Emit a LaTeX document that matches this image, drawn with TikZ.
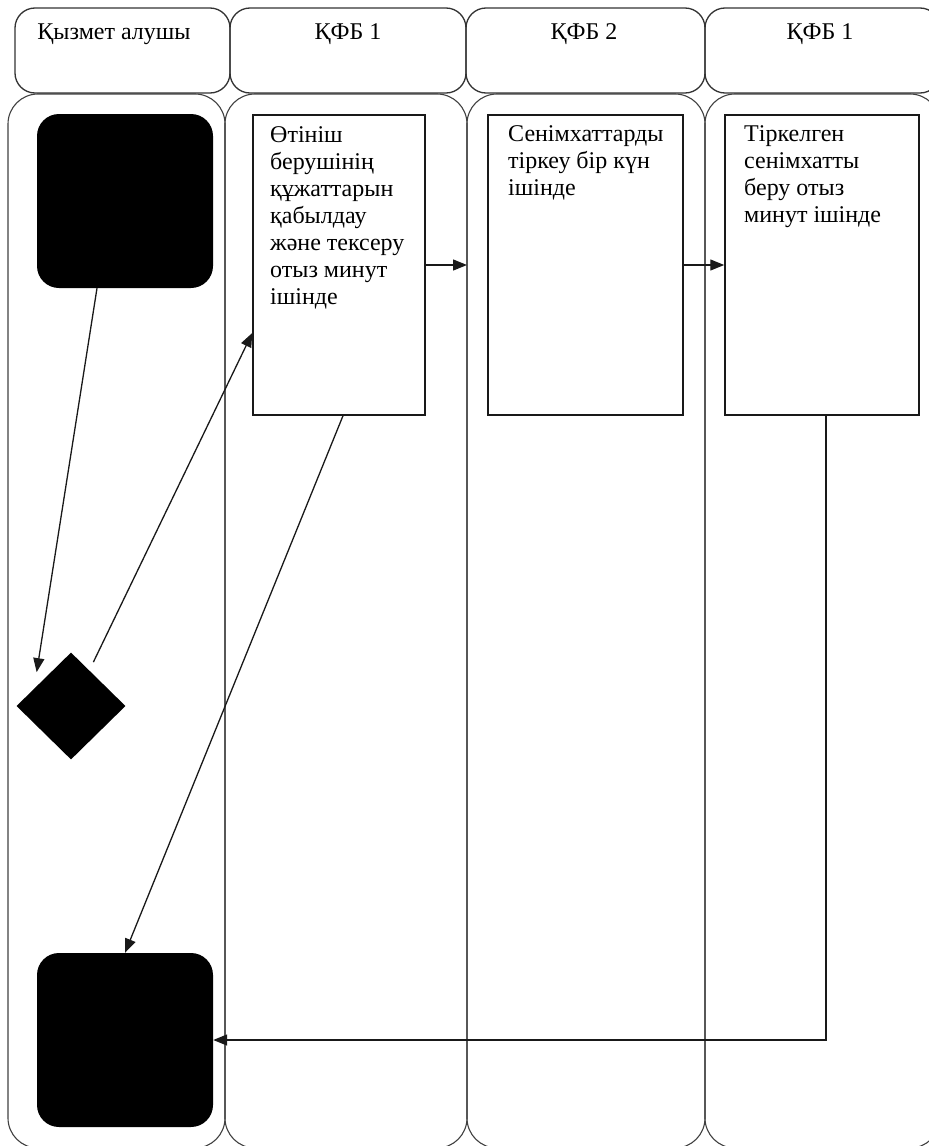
\documentclass[tikz,border=0pt]{standalone}
\usepackage{fontspec}
\setmainfont{Liberation Serif}
\usetikzlibrary{arrows.meta,shapes.geometric}
\begin{document}
\begin{tikzpicture}[x=1pt,y=-1pt,
  lane/.style={draw=black!75, line width=1.1pt, rounded corners=30pt},
  hdr/.style={draw=black!80, line width=1.3pt, rounded corners=20pt, minimum width=#1, minimum height=85pt, inner sep=0pt},
  hdrtext/.style={font=\fontsize{24}{27}\selectfont, anchor=base, inner sep=0pt},
  task/.style={draw=black!90, line width=1.5pt, minimum width=#1, minimum height=300pt, inner sep=0pt},
  tasktext/.style={font=\fontsize{24}{27}\selectfont, anchor=north west, align=left, inner sep=0pt},
  term/.style={fill=black, rounded corners=22pt, minimum width=176pt, minimum height=174pt, inner sep=0pt},
  dec/.style={shape=diamond, fill=black, minimum width=109pt, minimum height=107pt, inner sep=0pt},
  arr/.style={draw=black!90, line width=1.3pt, -{Triangle[length=14pt,width=11pt]}}
]
\useasboundingbox (0,0) rectangle (929,1146);
\begin{scope}
\clip (0,0) rectangle (929,1146);
% lanes
\draw[lane] (8,94) rectangle (225,1148);
\draw[lane] (225,94) rectangle (467,1148);
\draw[lane] (467,94) rectangle (705,1148);
\draw[lane] (705,94) rectangle (940,1148);
% headers
\node[hdr=215pt] (h1) at (122.5,50.5) {};
\node[hdr=236pt] (h2) at (348,50.5) {};
\node[hdr=239pt] (h3) at (585.5,50.5) {};
\node[hdr=235pt] (h4) at (822.5,50.5) {};
\end{scope}
\node[hdrtext] (t1) at (114,39) {Қызмет алушы};
\node[hdrtext] (t2) at (348,39) {ҚФБ 1};
\node[hdrtext] (t3) at (584,39) {ҚФБ 2};
\node[hdrtext] (t4) at (820,39) {ҚФБ 1};
% terminals and decision
\node[term] (st) at (125,201) {};
\node[term] (en) at (125,1040) {};
\node[dec] (dia) at (71,706) {};
% tasks
\node[task=172pt] (A) at (339,265) {};
\node[task=195pt] (B) at (585.5,265) {};
\node[task=194pt] (C) at (822,265) {};
\node[tasktext] (At) at (270,125) {\rule{0pt}{17pt}Өтініш\\берушінің\\құжаттарын\\қабылдау\\және тексеру\\отыз минут\\ішінде};
\node[tasktext] (Bt) at (508,124) {\rule{0pt}{17pt}Сенімхаттарды\\тіркеу бір күн\\ішінде};
\node[tasktext] (Ct) at (744,124) {\rule{0pt}{17pt}Тіркелген\\сенімхатты\\беру отыз\\минут ішінде};
\coordinate (l23) at (467,265);
% connectors
\draw[arr] ([shift={(-28,0)}]st.south) -- ([shift={(-7,-7)}]dia.north west);
\draw[arr] ([shift={(-5,-17)}]dia.north east) -- ([shift={(0,68)}]A.west);
\draw[arr] ([shift={(4,0)}]A.south) -- (en.north);
\draw[arr] (A.east) -- (l23);
\draw[arr] (B.east) -- (C.west);
\draw[arr] ([shift={(4,0)}]C.south) |- (en.east);
\end{tikzpicture}
\end{document}
